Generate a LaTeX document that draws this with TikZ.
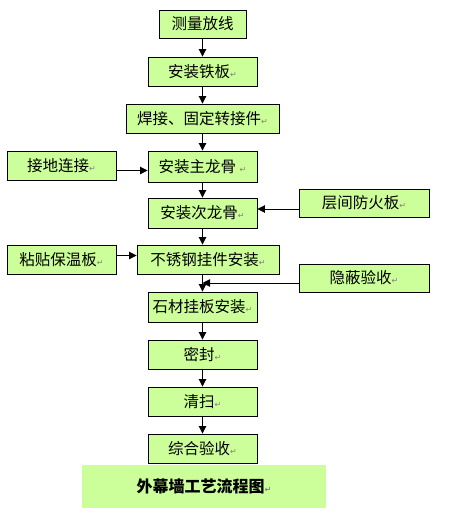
\documentclass[tikz,border=0pt]{standalone}
\usepackage{fontspec}
\setmainfont{Noto Sans CJK SC}
\newfontfamily\symfont{DejaVu Sans}
\usepackage{tikz}
\usetikzlibrary{arrows.meta}
\definecolor{boxgreen}{RGB}{204,255,153}
\newcommand{\pmark}{{\symfont\fontsize{8}{8}\selectfont\color{gray}↵}}
\tikzset{
    stepbox/.style={draw=black,line width=0.9pt,fill=boxgreen,inner sep=0pt,
        font=\fontsize{15.5}{17}\selectfont},
    flow/.style={->,line width=0.9pt}
}

\begin{document}
\begin{tikzpicture}[x=1pt,y=-1pt,>={Triangle[length=7.5pt,width=7.5pt]}]
        \useasboundingbox (0,0) rectangle (467,516);
        \fill[white] (0,0) rectangle (467,516);
        % main steps
        \node[stepbox,minimum width=87pt,minimum height=28pt] (b1) at (202.5,24) {测量放线};
        \node[stepbox,minimum width=109pt,minimum height=29pt] (b2) at (202.5,71.5) {安装铁板\pmark};
        \node[stepbox,minimum width=153pt,minimum height=29pt] (b3) at (202.5,118.5) {焊接、固定转接件\pmark};
        \node[stepbox,minimum width=109pt,minimum height=31pt] (b4) at (202.5,166.5) {安装主龙骨\ \pmark};
        \node[stepbox,minimum width=109pt,minimum height=30pt] (b5) at (202.5,213) {安装次龙骨\pmark};
        \node[stepbox,minimum width=142pt,minimum height=29pt] (b6) at (208,259.5) {不锈钢挂件安装\pmark};
        \node[stepbox,minimum width=109pt,minimum height=30pt] (b7) at (202.5,307) {石材挂板安装\pmark};
        \node[stepbox,minimum width=109pt,minimum height=29pt] (b8) at (202.5,354.5) {密封\pmark};
        \node[stepbox,minimum width=109pt,minimum height=29pt] (b9) at (202.5,401.5) {清扫\pmark};
        \node[stepbox,minimum width=109pt,minimum height=29pt] (b10) at (202.5,448.5) {综合验收\pmark};
        % side steps
        \node[stepbox,minimum width=109pt,minimum height=29pt] (ground) at (61.5,165.5) {接地连接\pmark};
        \node[stepbox,minimum width=130pt,minimum height=28pt] (fire) at (364,203) {层间防火板\pmark};
        \node[stepbox,minimum width=109pt,minimum height=29pt] (insul) at (61.5,259.5) {粘贴保温板\pmark};
        \node[stepbox,minimum width=130pt,minimum height=28pt] (hidden) at (364,278) {隐蔽验收\pmark};
        % title
        \node[stepbox,draw=none,minimum width=244pt,minimum height=43pt,
            font=\fontsize{16}{18}\selectfont\bfseries] (title) at (204,486.5) {外幕墙工艺流程图\pmark};
        % arrows
        \draw[flow] (b1) -- (b2);
        \draw[flow] (b2) -- (b3);
        \draw[flow] (b3) -- (b4);
        \draw[flow] (b4) -- (b5);
        \draw[flow] (b5.south) -- (b5.south |- b6.north);
        \draw[flow] (b7.north |- b6.south) -- (b7.north);
        \draw[flow] (b7) -- (b8);
        \draw[flow] (b8) -- (b9);
        \draw[flow] (b9) -- (b10);
        \draw[flow] ([yshift=-5pt]ground.east) -- ([yshift=-5pt]ground.east -| b4.west);
        \draw[flow] ([yshift=-6pt]fire.west) -- ([yshift=-6pt]fire.west -| b5.east);
        \draw[flow] ([yshift=4pt]insul.east) -- ([yshift=4pt]insul.east -| b6.west);
        \coordinate (hj) at ([yshift=-5pt]hidden.west -| b7.north);
        \draw[flow] ([yshift=-5pt]hidden.west) -- (hj);
\end{tikzpicture}
\end{document}
